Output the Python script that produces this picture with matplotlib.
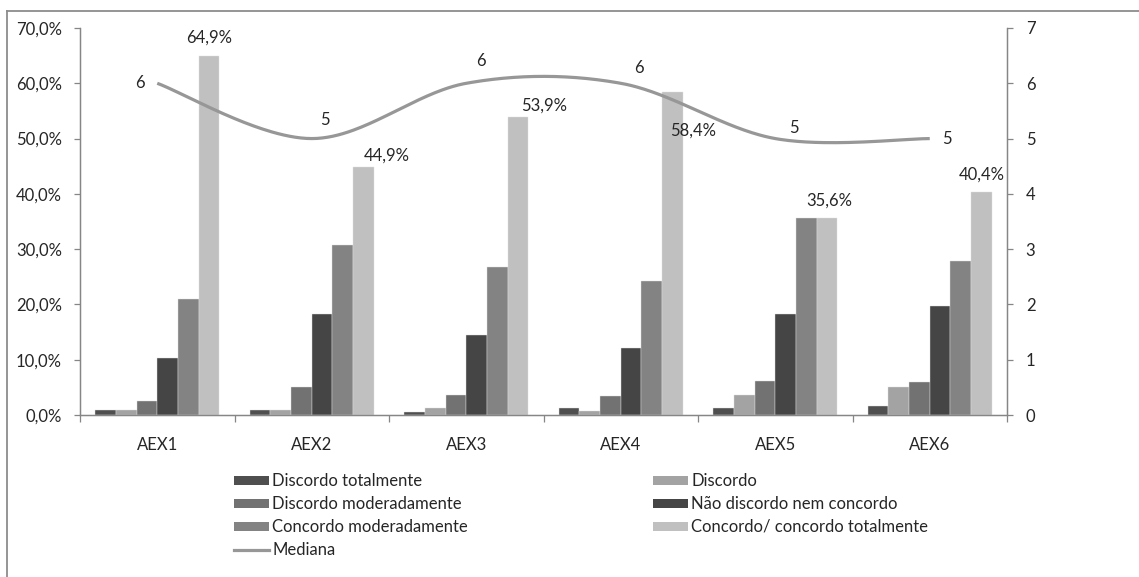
import numpy as np
import matplotlib
matplotlib.use("Agg")
import matplotlib.pyplot as plt
from matplotlib.patches import Patch
from matplotlib.lines import Line2D
from matplotlib.ticker import FixedLocator, FuncFormatter

plt.rcParams['font.family'] = ['Lato', 'DejaVu Sans']

# ---- data ----
categories = ["AEX1", "AEX2", "AEX3", "AEX4", "AEX5", "AEX6"]
discordo_totalmente = [0.9, 0.9, 0.6, 1.3, 1.3, 1.7]
discordo = [0.9, 0.9, 1.3, 0.8, 3.7, 5.0]
discordo_moderadamente = [2.6, 5.0, 3.7, 3.4, 6.2, 5.9]
nao_discordo_nem_concordo = [10.3, 18.2, 14.4, 12.2, 18.3, 19.7]
concordo_moderadamente = [20.9, 30.7, 26.7, 24.2, 35.6, 27.9]
concordo_totalmente = [64.9, 44.9, 53.9, 58.4, 35.6, 40.4]
mediana = [6, 5, 6, 6, 5, 5]

series_names = ["Discordo totalmente", "Discordo", "Discordo moderadamente",
                "Não discordo nem concordo", "Concordo moderadamente",
                "Concordo/ concordo totalmente"]
series_values = [discordo_totalmente, discordo, discordo_moderadamente,
                 nao_discordo_nem_concordo, concordo_moderadamente,
                 concordo_totalmente]
series_colors = ["#4f4f4f", "#a3a3a3", "#727272", "#454545", "#838383", "#c0c0c0"]
line_color = "#979797"
axis_color = "#868686"
text_color = "#262626"
FS = 12

W, H = 1139, 577
fig = plt.figure(figsize=(W / 100, H / 100), dpi=100)

# outer chart border (left and top edges visible)
fig.add_artist(Line2D([7 / W, 7 / W], [0, 1 - 11 / H], transform=fig.transFigure,
                      color="#8c8c8c", lw=1.3))
fig.add_artist(Line2D([7 / W, 1], [1 - 11 / H, 1 - 11 / H], transform=fig.transFigure,
                      color="#8c8c8c", lw=1.3))

ax = fig.add_axes([80 / W, 1 - 415 / H, 927 / W, 387 / H])
ax2 = ax.twinx()

n = len(categories)
x = np.arange(n)
bw = 0.134
for j, (vals, col) in enumerate(zip(series_values, series_colors)):
    ax.bar(x + (j - 2.5) * bw, vals, width=bw, color=col, edgecolor="#e0e0e0",
           linewidth=0.3, zorder=2)

# labels on the "Concordo/ concordo totalmente" bars (offsets in pixels)
ct_offsets = [(0, 19), (23, 11), (26, 11), (21, -38), (2, 18), (0, 17)]
for i, v in enumerate(concordo_totalmente):
    ax.annotate(f"{v:.1f}%".replace(".", ","), (x[i] + 2.5 * bw, v),
                xytext=ct_offsets[i], textcoords="offset pixels",
                ha="center", va="center", fontsize=FS, color=text_color, zorder=5)

ax.set_xlim(-0.5, n - 0.5)
ax.set_ylim(0, 70)
ax.set_yticks(np.arange(0, 71, 10))
ax.yaxis.set_major_formatter(FuncFormatter(lambda v, p: f"{v:.1f}%".replace(".", ",")))
ax.set_xticks(x)
ax.set_xticklabels(categories)
ax.xaxis.set_minor_locator(FixedLocator(np.arange(-0.5, n, 1.0)))
ax.tick_params(axis="x", which="major", length=0, pad=16, labelsize=FS, colors=text_color)
ax.tick_params(axis="x", which="minor", length=5, width=0.9, color=axis_color, direction="out")
ax.tick_params(axis="y", length=4, width=0.9, color=axis_color, pad=9,
               labelsize=FS, labelcolor=text_color, direction="out")

# smoothed median line (Bezier spline through the category points)
def smooth(xs, ys, steps=60):
    px = list(xs)
    py = list(ys)
    ex = [px[0]] + px + [px[-1]]
    ey = [py[0]] + py + [py[-1]]
    out_x, out_y = [], []
    t = np.linspace(0, 1, steps)
    for k in range(len(px) - 1):
        p0 = np.array([ex[k + 1], ey[k + 1]])
        p3 = np.array([ex[k + 2], ey[k + 2]])
        c1 = p0 + (np.array([ex[k + 2], ey[k + 2]]) - np.array([ex[k], ey[k]])) / 6
        c2 = p3 - (np.array([ex[k + 3], ey[k + 3]]) - np.array([ex[k + 1], ey[k + 1]])) / 6
        b = ((1 - t) ** 3)[:, None] * p0 + (3 * (1 - t) ** 2 * t)[:, None] * c1 \
            + (3 * (1 - t) * t ** 2)[:, None] * c2 + (t ** 3)[:, None] * p3
        out_x.extend(b[:, 0])
        out_y.extend(b[:, 1])
    return out_x, out_y

sx, sy = smooth(x, mediana)
ax2.plot(sx, sy, color=line_color, lw=2.3, solid_capstyle="butt", zorder=3)
med_offsets = [(-17, 0), (13, 19), (15, 22), (18, 15), (19, 11), (17, 0)]
for i, v in enumerate(mediana):
    ax2.annotate(f"{v}", (x[i], v), xytext=med_offsets[i], textcoords="offset pixels",
                 ha="center", va="center", fontsize=FS, color=text_color)
ax2.set_ylim(0, 7)
ax2.set_yticks(range(0, 8))
ax2.tick_params(axis="y", length=4, width=0.9, color=axis_color, pad=9.5,
                labelsize=FS, labelcolor=text_color, direction="out")

for a in (ax, ax2):
    a.spines["top"].set_visible(False)
    for s in ("left", "right", "bottom"):
        a.spines[s].set_color(axis_color)
        a.spines[s].set_linewidth(0.9)

# legend in two columns
h = {name: Patch(facecolor=c, edgecolor="none") for name, c in zip(series_names, series_colors)}
med_handle = Line2D([], [], color=line_color, lw=2.3)
leg_kw = dict(frameon=False, fontsize=FS, handlelength=2.1, handleheight=0.45,
              handletextpad=0.2, labelspacing=0.42, borderpad=0, borderaxespad=0,
              loc="upper left", bbox_transform=fig.transFigure, labelcolor=text_color)
leg1 = fig.legend([h[series_names[0]], h[series_names[2]], h[series_names[4]], med_handle],
                  [series_names[0], series_names[2], series_names[4], "Mediana"],
                  bbox_to_anchor=(234 / W, 1 - 473 / H), **leg_kw)
leg2 = fig.legend([h[series_names[1]], h[series_names[3]], h[series_names[5]]],
                  [series_names[1], series_names[3], series_names[5]],
                  bbox_to_anchor=(653 / W, 1 - 473 / H), **leg_kw)

fig.savefig("out.png", dpi=100)
